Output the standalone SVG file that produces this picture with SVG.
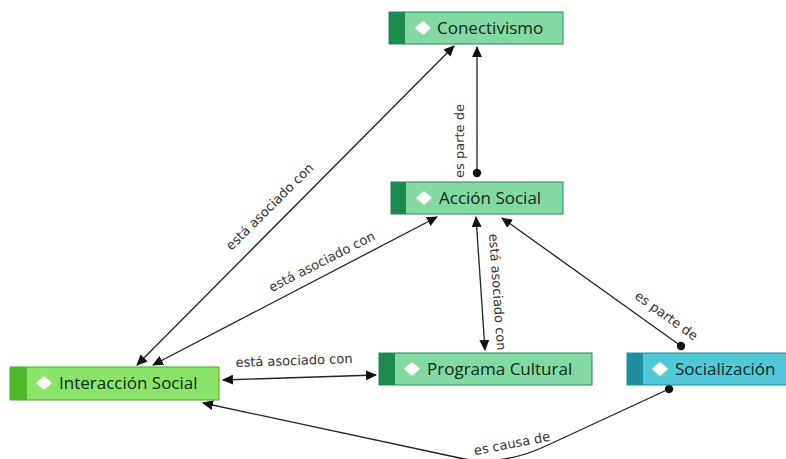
<svg xmlns="http://www.w3.org/2000/svg" width="786" height="459" viewBox="0 0 786 459">
<style>
.lbl{font-family:"DejaVu Sans",Verdana,sans-serif;font-size:13px;fill:#333;text-anchor:middle}
.nt{font-family:"Open Sans","Noto Sans",sans-serif;font-size:17px;font-weight:500;fill:#122a18}
.ln{fill:none;stroke:#222;stroke-width:1.3}
.mint{fill:#82d9a3;stroke:#22885a;stroke-width:1}
.mintS{fill:#1c8a50}
.lime{fill:#8be46a;stroke:#4aa82c;stroke-width:1}
.limeS{fill:#4cb82c}
.teal{fill:#50c8d8;stroke:#1f8c9c;stroke-width:1}
.tealS{fill:#1f8f9f}
.dia{fill:#fff;stroke:#cfe8d0;stroke-width:1}
</style>
<defs>
<marker id="arr" markerUnits="userSpaceOnUse" markerWidth="12" markerHeight="10" refX="10" refY="5" orient="auto-start-reverse" viewBox="0 0 12 10">
<path d="M0,0 L11,5 L0,10 Z" fill="#111"/>
</marker>
<marker id="dot" markerUnits="userSpaceOnUse" markerWidth="10" markerHeight="10" refX="5" refY="5" orient="auto" viewBox="0 0 10 10">
<circle cx="5" cy="5" r="4.2" fill="#111"/>
</marker>
</defs>
<rect width="786" height="459" fill="#fff"/>
<g id="connectors">
<path class="ln" d="M137,365 L454,46" marker-start="url(#arr)" marker-end="url(#arr)"/>
<path class="ln" d="M153,365 L437,217" marker-start="url(#arr)" marker-end="url(#arr)"/>
<path class="ln" d="M223,380 L376,375" marker-start="url(#arr)" marker-end="url(#arr)"/>
<path class="ln" d="M477,47 L477,173" marker-start="url(#arr)" marker-end="url(#dot)"/>
<path class="ln" d="M476,217 L485,350" marker-start="url(#arr)" marker-end="url(#arr)"/>
<path class="ln" d="M681,346 L502,218" marker-start="url(#dot)" marker-end="url(#arr)"/>
<path class="ln" d="M669,389 L548,445 Q500,468 455,457 L203,403" marker-start="url(#dot)" marker-end="url(#arr)"/>
<text class="lbl" transform="translate(270,207) rotate(-44.8)" y="4">está asociado con</text>
<text class="lbl" transform="translate(322,262) rotate(-27)" y="4">está asociado con</text>
<text class="lbl" transform="translate(294,361) rotate(-2)" y="4">está asociado con</text>
<text class="lbl" transform="translate(460,141) rotate(-90)" y="4">es parte de</text>
<text class="lbl" transform="translate(497,292) rotate(86)" y="4">está asociado con</text>
<text class="lbl" transform="translate(666,316) rotate(35.7)" y="4">es parte de</text>
<text class="lbl" transform="translate(512,444) rotate(-11)" y="4">es causa de</text>
</g>
<g id="conectivismo">
<rect class="mint" x="389" y="12" width="174" height="32"/>
<rect class="mintS" x="389" y="12" width="16" height="32"/>
<path class="dia" d="M423,21 L431,28 L423,35 L415,28 Z"/>
<text class="nt" x="437" y="34">Conectivismo</text>
</g>
<g id="accion-social">
<rect class="mint" x="391" y="182" width="172" height="32"/>
<rect class="mintS" x="391" y="182" width="15" height="32"/>
<path class="dia" d="M424,191 L432,198 L424,205 L416,198 Z"/>
<text class="nt" x="439" y="204">Acción Social</text>
</g>
<g id="interaccion-social">
<rect class="lime" x="10" y="367" width="209" height="33"/>
<rect class="limeS" x="10" y="367" width="17" height="33"/>
<path class="dia" d="M44,376 L52,383 L44,390 L36,383 Z"/>
<text class="nt" x="59" y="389">Interacción Social</text>
</g>
<g id="programa-cultural">
<rect class="mint" x="379" y="353" width="213" height="32"/>
<rect class="mintS" x="379" y="353" width="16" height="32"/>
<path class="dia" d="M412,362 L420,369 L412,376 L404,369 Z"/>
<text class="nt" x="427" y="375">Programa Cultural</text>
</g>
<g id="socializacion">
<rect class="teal" x="627" y="353" width="165" height="32"/>
<rect class="tealS" x="627" y="353" width="16" height="32"/>
<path class="dia" d="M660,362 L668,369 L660,376 L652,369 Z"/>
<text class="nt" x="675" y="375">Socialización</text>
</g>
</svg>
